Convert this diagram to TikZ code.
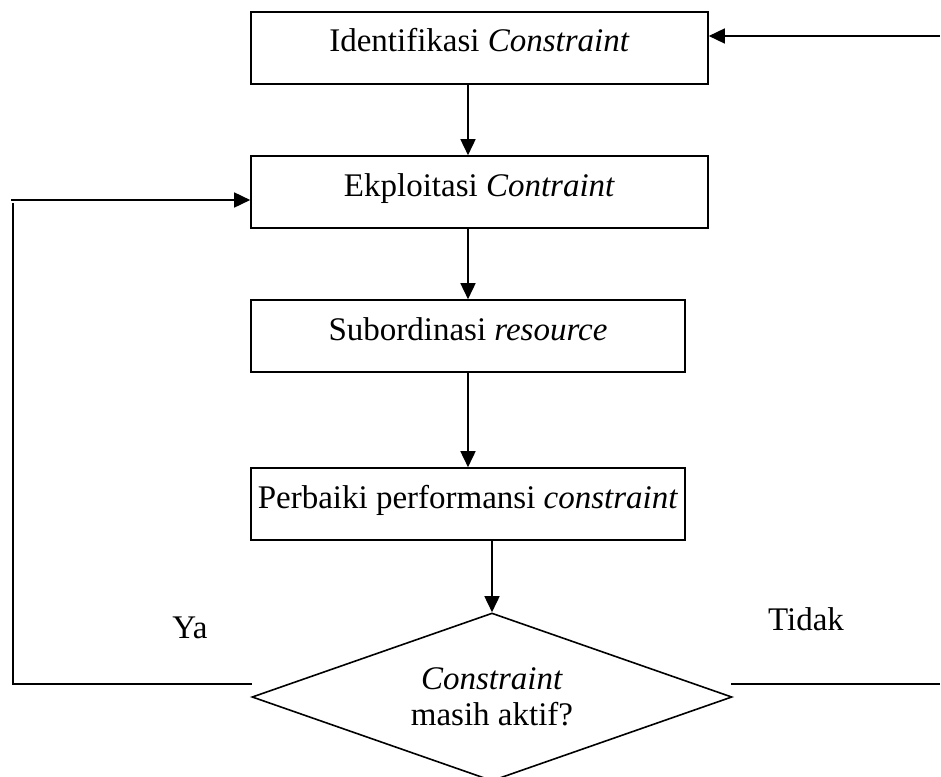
\documentclass[tikz,border=0pt]{standalone}
\usepackage{fontspec}
\setmainfont{Liberation Serif}
\usetikzlibrary{arrows.meta,shapes.geometric}
\begin{document}
\begin{tikzpicture}[x=1pt,y=-1pt,
  every node/.style={font=\fontsize{33}{36}\selectfont},
  stepbox/.style={draw, line width=1.6pt, inner sep=0pt, text height=22pt, text depth=14pt},
  decision/.style={draw, line width=1.6pt, diamond, aspect=2.857, minimum width=480pt, minimum height=168pt, inner sep=0pt, align=center},
  conn/.style={line width=1.6pt},
  arr/.style={conn, -{Triangle[length=16pt,width=15pt]}},
  lbl/.style={anchor=base}]
\useasboundingbox (0,0) rectangle (941,776);
\fill[white] (0,0) rectangle (941,776);

\node[stepbox, minimum width=457pt, minimum height=72pt] (b1) at (479.5,48) {Identifikasi \textit{Constraint}};
\node[stepbox, minimum width=457pt, minimum height=72pt] (b2) at (479.5,192) {Ekploitasi \textit{Contraint}};
\node[stepbox, minimum width=434pt, minimum height=72pt] (b3) at (468,336) {Subordinasi \textit{resource}};
\node[stepbox, minimum width=434pt, minimum height=72pt] (b4) at (468,504) {Perbaiki performansi \textit{constraint}};
\node[decision] (d) at (492,697) {\textit{Constraint}\\masih aktif?};

\coordinate (inR) at (940,36);
\coordinate (inL) at (11,200);
\coordinate (lTop) at (13,203);
\coordinate (lBot) at (13,684);
\coordinate (lEnd) at (252,684);
\coordinate (rStart) at (731,684);
\coordinate (rEnd) at (940,684);

\draw[arr] (inR) -- (b1.east |- inR);
\draw[arr] (b1.south -| b3) -- (b2.north -| b3);
\draw[arr] (b2.south -| b3) -- (b3.north);
\draw[arr] (b3.south) -- (b4.north);
\draw[arr] (b4.south -| d.north) -- (d.north);
\draw[arr] (inL) -- (b2.west |- inL);
\draw[conn] (lEnd) -- (lBot) -- (lTop);
\draw[conn] (rStart) -- (rEnd);

\node[lbl] (ya) at (190,638) {Ya};
\node[lbl] (tidak) at (806,630) {Tidak};
\end{tikzpicture}
\end{document}
